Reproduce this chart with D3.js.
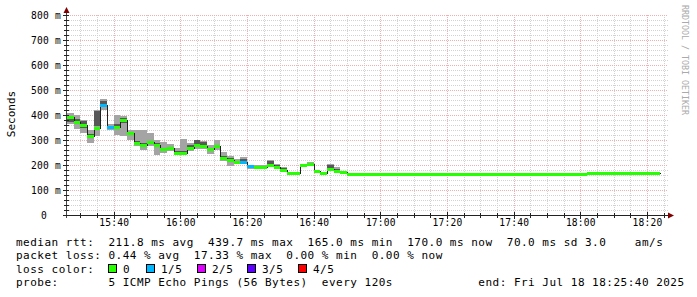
<!DOCTYPE html>
<html>
<head>
<meta charset="utf-8">
<script src="https://cdn.jsdelivr.net/npm/d3@7/dist/d3.min.js"></script>
<style>
  html, body { margin: 0; padding: 0; background: #fff; }
  svg { display: block; }
  text { font-family: "DejaVu Sans Mono", monospace; }
</style>
</head>
<body>
<svg id="chart" width="697" height="297"></svg>
<script>
// median rtt per 2 minute step (ms), starting 15:26
const medianMs = [
  393, 373, 361, 318, 348, 440, 352, 352, 381, 328,
  290, 281, 292, 282, 265, 268, 250, 250, 269, 282,
  277, 264, 274, 230, 221, 212, 212, 198, 191, 194,
  201, 194, 181, 167, 167, 201, 205, 174, 167, 186,
  177, 173, 165, 165, 165, 165, 165, 165, 165, 165,
  165, 165, 165, 165, 165, 165, 165, 165, 165, 165,
  165, 165, 165, 165, 165, 165, 165, 165, 165, 165,
  165, 165, 165, 165, 165, 165, 165, 165, 170, 170,
  170, 170, 170, 170, 170, 170, 170, 170, 170
];
// lost pings out of 5 per step
const lossCount = [
  0, 0, 0, 0, 0, 1, 1, 0, 0, 0,
  0, 0, 0, 0, 0, 0, 0, 0, 0, 0,
  0, 0, 0, 0, 0, 0, 1, 1, 0, 0,
  0, 0, 0, 0, 0, 0, 0, 0, 0, 0,
  0, 0, 0, 0, 0, 0, 0, 0, 0, 0,
  0, 0, 0, 0, 0, 0, 0, 0, 0, 0,
  0, 0, 0, 0, 0, 0, 0, 0, 0, 0,
  0, 0, 0, 0, 0, 0, 0, 0, 0, 0,
  0, 0, 0, 0, 0, 0, 0, 0, 0
];
// smoke bands (ms) for the steps that have spread
const smokeOuterLo = [365, 344, 329, 290, 314, 419, 340, 321, 315, 301, 274, 261, 274, 241, 250, 258, 245, 241, 255, 265, 265, 243, 262, 214, 197, 205, 205, 184, 184, 185, 197, 190, 178, 165, 165, 198, 200, 170, 165, 174, 172, 170];
const smokeOuterHi = [410, 402, 381, 339, 422, 462, 362, 401, 398, 341, 341, 341, 329, 301, 294, 285, 268, 305, 290, 301, 298, 280, 300, 254, 237, 225, 234, 201, 201, 200, 221, 205, 192, 172, 170, 205, 213, 178, 170, 205, 192, 178];
const smokeInnerLo = [373, 362, 350, 308, 355, 440, 348, 350, 370, 320, 284, 276, 285, 276, 260, 262, 248, 246, 262, 281, 270, 258, 268, 224, 214, 208, 207, 192, 188, 190, 200, 192, 180, 166, 166, 200, 203, 172, 166, 182, 175, 172];
const smokeInnerHi = [395, 382, 375, 325, 415, 458, 356, 365, 388, 332, 296, 290, 298, 288, 270, 272, 256, 256, 280, 301, 292, 270, 280, 236, 228, 216, 222, 200, 196, 197, 215, 200, 188, 170, 168, 203, 208, 176, 168, 201, 185, 176];

const yTicks = [0, 100, 200, 300, 400, 500, 600, 700, 800];
const lossLabels = ["0", "1/5", "2/5", "3/5", "4/5"];
const lossColors = ["#26ff00", "#00b8ff", "#dd00ff", "#5e00ff", "#ff0000"];
const legendLines = [
  "median rtt:  211.8 ms avg  439.7 ms max  165.0 ms min  170.0 ms now  70.0 ms sd 3.0    am/s",
  "packet loss: 0.44 % avg  17.33 % max  0.00 % min  0.00 % now",
  "loss color:",
  "probe:       5 ICMP Echo Pings (56 Bytes)  every 120s            end: Fri Jul 18 18:25:40 2025"
];

const svg = d3.select("#chart");
const startTime = new Date(2025, 6, 18, 15, 26, 0);
const endTime = new Date(2025, 6, 18, 18, 26, 0);
const stepMs = 2 * 60 * 1000;
const stepTime = i => new Date(startTime.getTime() + i * stepMs);

const x = d3.scaleTime().domain([startTime, endTime]).range([67, 667]);
const y = d3.scaleLinear().domain([0, 800]).range([215, 15]);

// grid
const grid = svg.append("g").attr("shape-rendering", "crispEdges");
const minorX = x.ticks(d3.timeMinute.every(5));
const majorX = x.ticks(d3.timeMinute.every(20));
const isMajorX = t => t.getMinutes() % 20 === 0;
grid.selectAll(".vmin").data(minorX.filter(t => !isMajorX(t))).enter().append("line")
  .attr("x1", d => Math.round(x(d)) + 0.5).attr("x2", d => Math.round(x(d)) + 0.5)
  .attr("y1", y(800)).attr("y2", y(0))
  .attr("stroke", "#d2d2d2").attr("stroke-dasharray", "1,1");
const minorY = d3.range(0, 801, 20);
grid.selectAll(".hmin").data(minorY.filter(v => v % 100 !== 0)).enter().append("line")
  .attr("x1", 67).attr("x2", 668)
  .attr("y1", d => Math.round(y(d)) + 0.5).attr("y2", d => Math.round(y(d)) + 0.5)
  .attr("stroke", "#d2d2d2").attr("stroke-dasharray", "1,1");
grid.selectAll(".vmaj").data(majorX).enter().append("line")
  .attr("x1", d => Math.round(x(d)) + 0.5).attr("x2", d => Math.round(x(d)) + 0.5)
  .attr("y1", y(800)).attr("y2", y(0))
  .attr("stroke", "#eeb0b0").attr("stroke-dasharray", "1,1");
grid.selectAll(".hmaj").data(yTicks.filter(v => v > 0)).enter().append("line")
  .attr("x1", 64).attr("x2", 668)
  .attr("y1", d => Math.round(y(d)) + 0.5).attr("y2", d => Math.round(y(d)) + 0.5)
  .attr("stroke", "#eeb0b0").attr("stroke-dasharray", "1,1");

// smoke
const plot = svg.append("g").attr("shape-rendering", "crispEdges");
const smokeIdx = d3.range(smokeOuterLo.length);
plot.selectAll(".outer").data(smokeIdx).enter().append("rect")
  .attr("x", i => Math.round(x(stepTime(i))))
  .attr("width", i => Math.round(x(stepTime(i + 1))) - Math.round(x(stepTime(i))))
  .attr("y", i => Math.round(y(smokeOuterHi[i])))
  .attr("height", i => Math.round(y(smokeOuterLo[i])) - Math.round(y(smokeOuterHi[i])))
  .attr("fill", "#a4a4a4");
plot.selectAll(".inner").data(smokeIdx).enter().append("rect")
  .attr("x", i => Math.round(x(stepTime(i))))
  .attr("width", i => Math.round(x(stepTime(i + 1))) - Math.round(x(stepTime(i))))
  .attr("y", i => Math.round(y(smokeInnerHi[i])))
  .attr("height", i => Math.round(y(smokeInnerLo[i])) - Math.round(y(smokeInnerHi[i])))
  .attr("fill", "#585858");

// median step line
const pts = medianMs.map((v, i) => [stepTime(i), v]);
pts.push([stepTime(medianMs.length), medianMs[medianMs.length - 1]]);
const line = d3.line()
  .x(d => Math.round(x(d[0])) + 0.5)
  .y(d => Math.round(y(d[1])) + 0.5)
  .curve(d3.curveStepAfter);
plot.append("path").datum(pts).attr("d", line)
  .attr("fill", "none").attr("stroke", "#202020").attr("stroke-width", 1);

// loss coloured median bars
plot.selectAll(".med").data(medianMs).enter().append("rect")
  .attr("x", (d, i) => Math.round(x(stepTime(i))))
  .attr("width", (d, i) => Math.round(x(stepTime(i + 1))) - Math.round(x(stepTime(i))))
  .attr("y", d => Math.round(y(d)) - 1)
  .attr("height", 3)
  .attr("fill", (d, i) => lossColors[lossCount[i]]);

// axes
const axes = svg.append("g").attr("shape-rendering", "crispEdges");
axes.append("line").attr("x1", 63).attr("x2", 669).attr("y1", 215.5).attr("y2", 215.5).attr("stroke", "#222");
axes.append("line").attr("x1", 66.5).attr("x2", 66.5).attr("y1", 218).attr("y2", 11).attr("stroke", "#444");
svg.append("path").attr("d", "M668,212.5 L674,215.5 L668,218.5 Z").attr("fill", "#7f0000");
svg.append("path").attr("d", "M63.5,13 L66.5,7 L69.5,13 Z").attr("fill", "#7f0000");

axes.selectAll(".xtmin").data(minorX).enter().append("line")
  .attr("x1", d => Math.round(x(d)) + 0.5).attr("x2", d => Math.round(x(d)) + 0.5)
  .attr("y1", d => isMajorX(d) ? 212 : 213).attr("y2", d => isMajorX(d) ? 219 : 218)
  .attr("stroke", "#222");
axes.selectAll(".ytmin").data(minorY).enter().append("line")
  .attr("x1", d => d % 100 === 0 ? 63 : 64).attr("x2", 69)
  .attr("y1", d => Math.round(y(d)) + 0.5).attr("y2", d => Math.round(y(d)) + 0.5)
  .attr("stroke", "#222");

const xAxis = d3.axisBottom(x).tickValues(majorX.filter(t => x(t) > 70))
  .tickFormat(d3.timeFormat("%H:%M")).tickSize(0).tickPadding(0);
const gx = svg.append("g").attr("transform", "translate(0,218)").call(xAxis);
gx.select(".domain").remove();
gx.selectAll("text").attr("font-family", "DejaVu Sans Mono").attr("font-size", "9.6px")
  .attr("letter-spacing", "0.2px").attr("fill", "#000").attr("dy", "0.8em");

const yAxis = d3.axisLeft(y).tickValues(yTicks)
  .tickFormat(v => v === 0 ? "0" : v + " m").tickSize(0).tickPadding(0);
const gy = svg.append("g").attr("transform", "translate(61,0)").call(yAxis);
gy.select(".domain").remove();
gy.selectAll("text").attr("font-family", "DejaVu Sans Mono").attr("font-size", "9.6px")
  .attr("letter-spacing", "0.2px").attr("fill", "#000");
gy.selectAll("text").filter(v => v === 0).attr("dx", "-14px");

// vertical label
svg.append("text").attr("transform", "translate(15,114) rotate(-90)")
  .attr("text-anchor", "middle").attr("font-size", "11px").text("Seconds");

// watermark
svg.append("text").attr("transform", "translate(682,5) rotate(90)")
  .attr("font-size", "8.3px").attr("fill", "#aaaaaa").text("RRDTOOL / TOBI OETIKER");

// legend
const legendY = [245.5, 259, 272.5, 286];
const leg = svg.append("g").attr("font-size", "11px").attr("letter-spacing", "0.49px").attr("fill", "#000");
leg.selectAll(".ll").data(legendLines).enter().append("text")
  .attr("x", 16).attr("y", (d, i) => legendY[i])
  .attr("xml:space", "preserve").text(d => d);
const boxX = [108, 146, 197, 247, 298];
const lossKeys = leg.selectAll(".lk").data(lossLabels).enter().append("g");
lossKeys.append("rect")
  .attr("x", (d, i) => boxX[i] + 0.5).attr("y", 264.5).attr("width", 8).attr("height", 8)
  .attr("fill", (d, i) => lossColors[i]).attr("stroke", "#000").attr("shape-rendering", "crispEdges");
lossKeys.append("text").attr("x", (d, i) => boxX[i] + 15).attr("y", legendY[2]).text(d => d);
</script>
</body>
</html>
